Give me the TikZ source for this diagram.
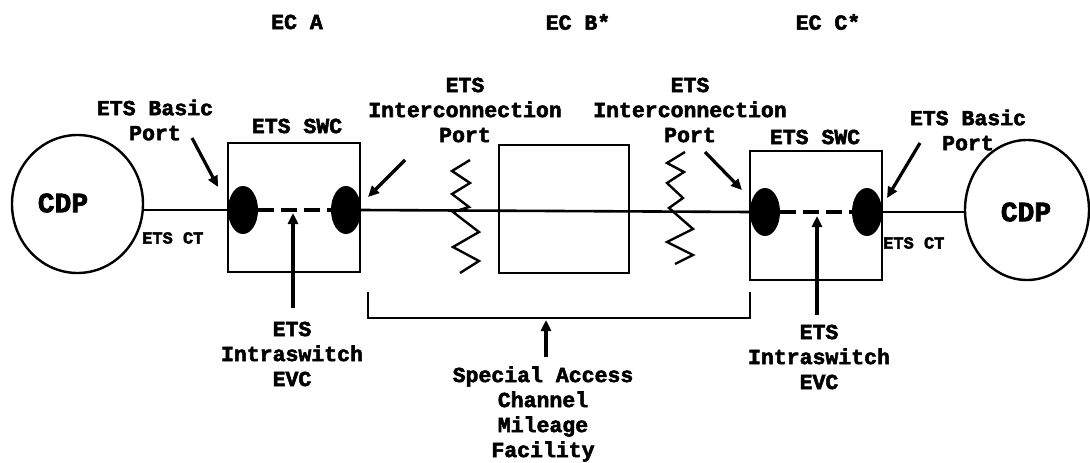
\documentclass[tikz,border=0pt]{standalone}
\usepackage{fontspec}
\setmainfont{Liberation Serif}
\newfontfamily\lab{Liberation Mono}[BoldFeatures={FakeBold=2.5}]
\usetikzlibrary{arrows.meta,shapes.geometric}
\begin{document}
\begin{tikzpicture}[x=1pt,y=-1pt,
  txt/.style={font=\lab\bfseries\fontsize{21.5}{25}\selectfont, align=center, inner sep=0pt},
  smalltxt/.style={font=\lab\bfseries\fontsize{17}{20}\selectfont, inner sep=0pt},
  cdptxt/.style={font=\lab\bfseries\fontsize{28}{30}\selectfont, inner sep=0pt},
  ln/.style={line width=2.6pt},
  boxs/.style={draw, line width=2.8pt, inner sep=0pt},
  circ/.style={draw, ellipse, line width=2.4pt, inner sep=0pt},
  portnode/.style={fill=black, ellipse, minimum width=30pt, minimum height=48pt, inner sep=0pt},
  arr/.style={line width=3.2pt, -{Triangle[length=11pt,width=10pt]}},
  zig/.style={line width=2.4pt, line join=miter},
  dashl/.style={line width=4pt, dash pattern=on 16pt off 7pt},
]
\useasboundingbox (0,0) rectangle (1090,463);

% EC labels
\node[txt] (ecA) at (297,22) {EC A};
\node[txt] (ecB) at (578,22) {EC B*};
\node[txt] (ecC) at (828,22) {EC C*};

% CDP circles
\node[circ, minimum width=131pt, minimum height=138pt] (cdpL) at (77.5,204) {};
\node[cdptxt] (cdpLt) at (63,203) {CDP};
\node[circ, minimum width=124pt, minimum height=140pt] (cdpR) at (1027,210) {};
\node[cdptxt] (cdpRt) at (1026,212) {CDP};

% switch boxes
\node[boxs, minimum width=132pt, minimum height=129pt] (swcL) at (294,207.5) {};
\node[boxs, minimum width=130pt, minimum height=128pt] (midB) at (564,209) {};
\node[boxs, minimum width=132pt, minimum height=129pt] (swcR) at (816,215.5) {};

% ports
\node[portnode] (pl1) at (243,210) {};
\node[portnode] (pl2) at (346,210) {};
\node[portnode] (pr1) at (765,212) {};
\node[portnode] (pr2) at (867,212) {};

% lines
\draw[ln] (pl1.west) -- (pl1.west -| cdpL.east);
\draw[ln] (pl2.east) -- (pr1.west);
\draw[ln] (pr2.east) -- (pr2.east -| cdpR.west);
\draw[dashl] (pl1.east) -- (pl2.west);
\draw[dashl] (pr1.east) -- (pr2.west);

% zigzags
\draw[zig] (470,160) -- (452,171) -- (470,183) -- (452,194) -- (469,207) -- (453,212) -- (479,232) -- (453,247) -- (479,261) -- (460,273);
\draw[zig] (685,152) -- (667,163) -- (684,172) -- (667,183) -- (683,198) -- (669,208) -- (693,229) -- (667,242) -- (693,255) -- (675,264);

% bracket
\coordinate (brA) at (368,292);
\coordinate (brB) at (368,318);
\coordinate (brC) at (750,318);
\coordinate (brD) at (750,292);
\draw[ln, line join=miter] (brA) -- (brB) -- (brC) -- (brD);

% labels
\node[txt] (basicL) at (155,120) {ETS Basic\\Port};
\node[txt] (swcLt) at (297,126) {ETS SWC};
\node[txt] (icL) at (465,110) {ETS\\Interconnection\\Port};
\node[txt] (icR) at (690,110) {ETS\\Interconnection\\Port};
\node[txt] (swcRt) at (815,137) {ETS SWC};
\node[txt] (basicR) at (968,130) {ETS Basic\\Port};
\node[smalltxt, anchor=west] (ctL) at (142,238) {ETS CT};
\node[smalltxt, anchor=west] (ctR) at (883,243) {ETS CT};
\node[txt] (evcL) at (292,354) {ETS\\Intraswitch\\EVC};
\node[txt] (evcR) at (819,357) {ETS\\Intraswitch\\EVC};
\node[txt] (sac) at (543,414) {Special Access\\Channel\\Mileage\\Facility};

% arrows
\coordinate (a1s) at (192,138); \coordinate (a1e) at (218,187);
\coordinate (a2s) at (405,160); \coordinate (a2e) at (368,197);
\coordinate (a3s) at (705,152); \coordinate (a3e) at (742,190);
\coordinate (a4s) at (920,143); \coordinate (a4e) at (887,198);
\coordinate (a5s) at (293,308); \coordinate (a5e) at (293,213);
\coordinate (a6s) at (817,315); \coordinate (a6e) at (817,216);
\coordinate (a7s) at (546,357); \coordinate (a7e) at (546,320);
\draw[arr] (a1s) -- (a1e);
\draw[arr] (a2s) -- (a2e);
\draw[arr] (a3s) -- (a3e);
\draw[arr] (a4s) -- (a4e);
\draw[arr] (a5s) -- (a5e);
\draw[arr] (a6s) -- (a6e);
\draw[arr] (a7s) -- (a7e);
\end{tikzpicture}
\end{document}
